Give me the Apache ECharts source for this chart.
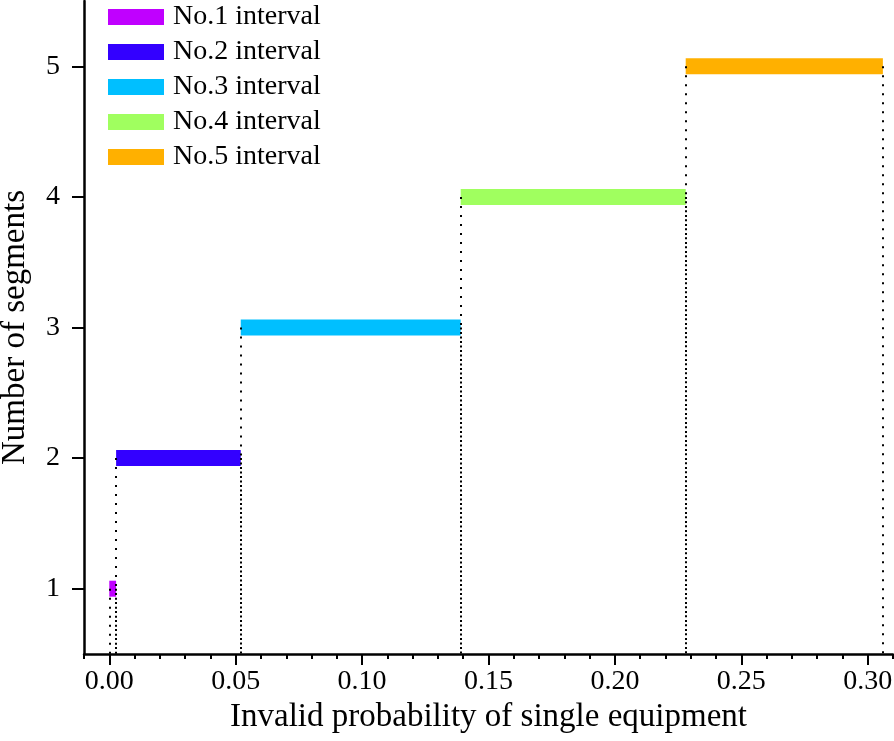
<!DOCTYPE html>
<html>
<head>
<meta charset="utf-8">
<script src="https://cdn.jsdelivr.net/npm/echarts@6/dist/echarts.min.js"></script>
<style>
  html, body { margin: 0; padding: 0; background: #fff; }
  #chart { width: 894px; height: 741px; }
</style>
</head>
<body>
<div id="chart"></div>
<script>
// interval data
var names = ['No.1 interval', 'No.2 interval', 'No.3 interval', 'No.4 interval', 'No.5 interval'];
var starts = [0.0, 0.0027, 0.052, 0.139, 0.228];
var ends = [0.0027, 0.052, 0.139, 0.228, 0.306];
var segments = [1, 2, 3, 4, 5];
var colors = ['#c000ff', '#3300ff', '#00bfff', '#a0ff5f', '#ffb000'];
var xMajor = [0, 0.05, 0.10, 0.15, 0.20, 0.25, 0.30];
var yTicks = [1, 2, 3, 4, 5];

var font = "'Liberation Serif', 'Times New Roman', serif";

var series = names.map(function (name, i) {
  return {
    name: name,
    type: 'line',
    xAxisIndex: 0,
    symbol: 'none',
    silent: true,
    data: [[starts[i], segments[i]], [ends[i], segments[i]]],
    itemStyle: { color: colors[i] },
    lineStyle: { color: colors[i], width: 16, cap: 'butt' },
    z: 2,
    markLine: {
      silent: true,
      symbol: ['none', 'none'],
      label: { show: false },
      lineStyle: { color: '#000', width: 2, type: [2, 7] },
      z: 5,
      data: [
        [{ coord: [starts[i], segments[i]] }, { coord: [starts[i], 0.5] }],
        [{ coord: [ends[i], segments[i]] }, { coord: [ends[i], 0.5] }]
      ]
    }
  };
});

var chart = echarts.init(document.getElementById('chart'));
chart.setOption({
  animation: false,
  textStyle: { fontFamily: font, color: '#000' },
  legend: {
    orient: 'vertical',
    left: 103,
    top: -2,
    icon: 'rect',
    itemWidth: 56,
    itemHeight: 16,
    itemGap: 7,
    selectedMode: false,
    textStyle: { fontFamily: font, fontSize: 28, color: '#000', padding: [0, 0, 0, 4] },
    data: names
  },
  grid: { left: 84, right: 1, top: 1, bottom: 87, outerBoundsMode: 'none', containLabel: false },
  xAxis: [{
    type: 'value',
    min: -0.01,
    max: 0.31,
    interval: 0.01,
    splitLine: { show: false },
    axisLine: { onZero: false, lineStyle: { color: '#000', width: 2.5 } },
    axisTick: { length: 5, lineStyle: { color: '#000', width: 2 } },
    axisLabel: {
      customValues: xMajor,
      margin: 14,
      fontSize: 28,
      fontFamily: font,
      color: '#000',
      formatter: function (v) { return v.toFixed(2); }
    },
    name: 'Invalid probability of single equipment',
    nameLocation: 'middle',
    nameGap: 47,
    nameTextStyle: { fontSize: 33, fontFamily: font, color: '#000' }
  }, {
    type: 'value',
    position: 'bottom',
    min: -0.01,
    max: 0.31,
    splitLine: { show: false },
    axisLine: { show: false, onZero: false },
    axisTick: { customValues: xMajor, length: 11, lineStyle: { color: '#000', width: 2 } },
    axisLabel: { show: false }
  }],
  yAxis: {
    type: 'value',
    min: 0.5,
    max: 5.5,
    splitLine: { show: false },
    axisLine: { show: true, onZero: false, lineStyle: { color: '#000', width: 2.5 } },
    axisTick: { show: true, customValues: yTicks, length: 12, lineStyle: { color: '#000', width: 2 } },
    axisLabel: {
      customValues: yTicks,
      margin: 24,
      fontSize: 28,
      fontFamily: font,
      color: '#000'
    },
    name: 'Number of segments',
    nameLocation: 'middle',
    nameGap: 52,
    nameTextStyle: { fontSize: 33, fontFamily: font, color: '#000' }
  },
  series: series
});
</script>
</body>
</html>
